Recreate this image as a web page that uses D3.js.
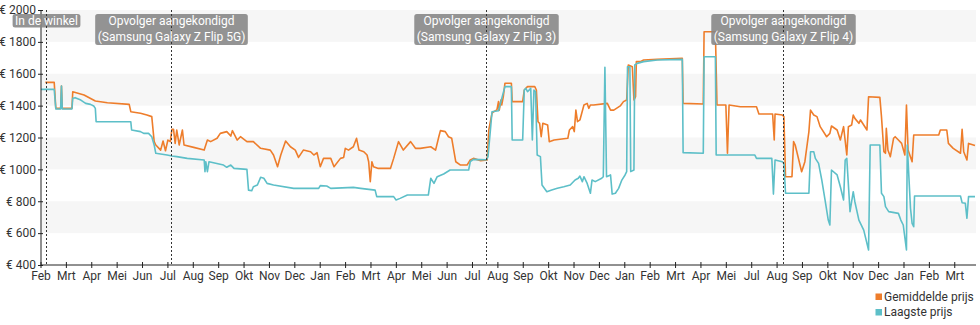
<!DOCTYPE html>
<html>
<head>
<meta charset="utf-8">
<script src="https://cdn.jsdelivr.net/npm/d3@7"></script>
<style>
  body { margin: 0; background: #fff; }
  svg text { font-family: Roboto, "Open Sans", sans-serif; }
</style>
</head>
<body>
<svg id="chart" width="980" height="325"></svg>
<script>
// Gemiddelde prijs (average price), € per date
const avgPrice = [
  ["2020-02-07",1546],["2020-02-18",1546],["2020-02-20",1383],["2020-02-26",1383],["2020-02-27",1523],["2020-02-28",1383],
  ["2020-03-11",1383],["2020-03-12",1487],["2020-03-26",1467],["2020-04-09",1429],["2020-04-24",1418],["2020-05-21",1408],
  ["2020-05-23",1362],["2020-06-04",1352],["2020-06-12",1341],["2020-06-18",1331],["2020-06-21",1174],["2020-06-23",1153],
  ["2020-06-29",1121],["2020-07-02",1178],["2020-07-05",1117],["2020-07-08",1184],["2020-07-11",1174],["2020-07-13",1251],
  ["2020-07-15",1251],["2020-07-17",1163],["2020-07-19",1247],["2020-07-22",1153],["2020-07-26",1247],["2020-07-28",1153],
  ["2020-08-09",1138],["2020-08-22",1121],["2020-08-26",1184],["2020-08-30",1174],["2020-09-07",1195],["2020-09-11",1226],
  ["2020-09-19",1237],["2020-09-24",1209],["2020-09-26",1243],["2020-10-02",1184],["2020-10-06",1205],["2020-10-14",1174],
  ["2020-10-22",1174],["2020-10-31",1132],["2020-11-12",1121],["2020-11-16",1090],["2020-11-21",1017],["2020-11-25",1090],
  ["2020-12-01",1178],["2020-12-07",1142],["2020-12-13",1121],["2020-12-17",1075],["2020-12-23",1121],["2021-01-01",1111],
  ["2021-01-05",1090],["2021-01-09",1105],["2021-01-13",1017],["2021-01-17",1069],["2021-01-26",1069],["2021-01-30",1017],
  ["2021-02-07",1069],["2021-02-11",1075],["2021-02-13",1132],["2021-02-17",1121],["2021-02-23",1142],["2021-02-27",1195],
  ["2021-03-02",1121],["2021-03-08",1111],["2021-03-12",1090],["2021-03-14",1048],["2021-03-16",923],["2021-03-18",1048],
  ["2021-03-20",1017],["2021-03-26",1006],["2021-04-10",1006],["2021-04-14",1069],["2021-04-20",1174],["2021-04-26",1121],
  ["2021-05-05",1174],["2021-05-11",1132],["2021-05-17",1132],["2021-05-30",1142],["2021-06-05",1121],["2021-06-09",1205],
  ["2021-06-11",1243],["2021-06-17",1237],["2021-06-21",1205],["2021-06-25",1195],["2021-06-30",1048],["2021-07-06",1027],
  ["2021-07-14",1027],["2021-07-18",1059],["2021-07-22",1069],["2021-07-31",1054],["2021-08-08",1059],["2021-08-10",1247],
  ["2021-08-14",1352],["2021-08-16",1362],["2021-08-20",1372],["2021-08-22",1425],["2021-08-23",1372],["2021-08-25",1435],
  ["2021-08-26",1404],["2021-08-28",1456],["2021-08-30",1540],["2021-09-07",1540],["2021-09-08",1425],["2021-09-21",1425],
  ["2021-09-23",1498],["2021-09-27",1519],["2021-10-06",1519],["2021-10-08",1498],["2021-10-10",1299],["2021-10-12",1289],
  ["2021-10-14",1205],["2021-10-16",1289],["2021-10-22",1278],["2021-10-24",1174],["2021-10-30",1184],["2021-11-16",1195],
  ["2021-11-18",1247],["2021-11-22",1268],["2021-11-24",1237],["2021-11-26",1372],["2021-11-28",1299],["2021-12-01",1310],
  ["2021-12-06",1404],["2021-12-10",1414],["2021-12-12",1383],["2021-12-14",1404],["2021-12-18",1404],["2022-01-04",1414],
  ["2022-01-08",1372],["2022-01-12",1372],["2022-01-20",1398],["2022-01-24",1425],["2022-01-28",1435],["2022-01-30",1655],
  ["2022-02-04",1644],["2022-02-06",1435],["2022-02-08",1456],["2022-02-09",1676],["2022-02-14",1676],["2022-02-18",1686],
  ["2022-03-07",1690],["2022-04-07",1697],["2022-04-08",1414],["2022-05-03",1410],["2022-05-04",1864],["2022-05-18",1864],
  ["2022-05-20",1404],["2022-05-31",1404],["2022-06-02",1101],["2022-06-04",1404],["2022-06-18",1393],["2022-07-08",1393],
  ["2022-07-11",1347],["2022-07-28",1347],["2022-07-30",1184],["2022-07-31",1347],["2022-08-09",1341],["2022-08-11",1331],
  ["2022-08-13",954],["2022-08-21",954],["2022-08-23",1174],["2022-08-25",1153],["2022-09-02",985],["2022-09-06",1048],
  ["2022-09-11",1237],["2022-09-13",1372],["2022-09-17",1341],["2022-09-21",1331],["2022-09-25",1268],["2022-10-03",1205],
  ["2022-10-07",1226],["2022-10-09",1272],["2022-10-16",1247],["2022-10-20",1184],["2022-10-24",1268],["2022-10-28",1090],
  ["2022-10-30",1268],["2022-11-03",1278],["2022-11-05",1341],["2022-11-07",1320],["2022-11-12",1289],["2022-11-14",1310],
  ["2022-11-22",1247],["2022-11-24",1456],["2022-12-08",1452],["2022-12-10",1331],["2022-12-13",1111],["2022-12-15",1101],
  ["2022-12-16",1257],["2022-12-18",1121],["2022-12-21",1080],["2022-12-25",1195],["2022-12-27",1205],["2022-12-31",1184],
  ["2023-01-04",1163],["2023-01-08",1090],["2023-01-10",1404],["2023-01-12",1121],["2023-01-17",1048],["2023-01-19",1216],
  ["2023-02-19",1216],["2023-02-21",1247],["2023-03-01",1247],["2023-03-03",1163],["2023-03-09",1132],["2023-03-18",1101],
  ["2023-03-20",1251],["2023-03-22",1111],["2023-03-26",1059],["2023-03-28",1163],["2023-04-05",1150]
];

// Laagste prijs (lowest price), € per date
const lowPrice = [
  ["2020-02-01",1502],["2020-02-18",1502],["2020-02-20",1379],["2020-02-26",1379],["2020-02-27",1523],["2020-02-28",1379],
  ["2020-03-11",1379],["2020-03-12",1446],["2020-03-15",1450],["2020-03-22",1435],["2020-03-28",1414],["2020-04-03",1408],
  ["2020-04-07",1398],["2020-04-09",1383],["2020-04-10",1299],["2020-05-23",1299],["2020-05-24",1247],["2020-06-04",1237],
  ["2020-06-08",1226],["2020-06-14",1226],["2020-06-18",1205],["2020-06-21",1153],["2020-06-23",1101],["2020-07-07",1090],
  ["2020-07-13",1084],["2020-07-19",1080],["2020-08-01",1069],["2020-08-22",1059],["2020-08-23",986],["2020-08-24",1048],
  ["2020-08-26",986],["2020-08-28",1048],["2020-09-15",1027],["2020-09-19",1013],["2020-09-24",1027],["2020-09-28",1006],
  ["2020-10-14",1000],["2020-10-16",870],["2020-10-20",866],["2020-10-22",891],["2020-10-27",902],["2020-10-31",950],
  ["2020-11-04",944],["2020-11-08",912],["2020-11-16",902],["2020-12-11",881],["2021-01-11",881],["2021-01-13",898],
  ["2021-01-21",896],["2021-01-26",881],["2021-02-23",887],["2021-03-04",881],["2021-03-22",870],["2021-03-24",829],
  ["2021-04-14",829],["2021-04-17",808],["2021-04-22",818],["2021-05-01",839],["2021-05-27",839],["2021-05-30",944],
  ["2021-06-03",912],["2021-06-07",954],["2021-06-15",971],["2021-06-23",996],["2021-07-16",996],["2021-07-18",1048],
  ["2021-07-22",1063],["2021-08-07",1060],["2021-08-09",1080],["2021-08-12",1247],["2021-08-14",1362],["2021-08-22",1368],
  ["2021-08-30",1519],["2021-09-07",1519],["2021-09-08",1184],["2021-09-21",1184],["2021-09-23",1498],["2021-09-25",1508],
  ["2021-09-27",1487],["2021-10-01",1508],["2021-10-03",1184],["2021-10-05",1498],["2021-10-07",1487],["2021-10-09",1090],
  ["2021-10-13",1080],["2021-10-15",902],["2021-10-21",860],["2021-10-27",871],["2021-11-03",881],["2021-11-11",891],
  ["2021-11-19",902],["2021-11-25",933],["2021-11-29",944],["2021-12-01",958],["2021-12-04",923],["2021-12-06",954],
  ["2021-12-10",912],["2021-12-14",850],["2021-12-16",933],["2021-12-20",923],["2021-12-28",944],["2021-12-30",954],
  ["2022-01-01",1640],["2022-01-03",954],["2022-01-08",965],["2022-01-10",845],["2022-01-14",850],["2022-01-18",881],
  ["2022-01-22",933],["2022-01-26",965],["2022-01-28",986],["2022-01-29",1644],["2022-02-01",1644],["2022-02-02",986],
  ["2022-02-06",996],["2022-02-07",1655],["2022-02-10",1665],["2022-02-18",1676],["2022-03-07",1686],["2022-04-07",1690],
  ["2022-04-08",1105],["2022-05-03",1101],["2022-05-04",1707],["2022-05-18",1707],["2022-05-19",1090],["2022-07-06",1090],
  ["2022-07-08",1069],["2022-07-27",1069],["2022-07-29",845],["2022-07-31",1059],["2022-08-09",1048],["2022-08-11",1038],
  ["2022-08-13",850],["2022-09-11",850],["2022-09-13",1111],["2022-09-17",1111],["2022-09-19",1069],["2022-09-23",1038],
  ["2022-09-27",933],["2022-10-01",808],["2022-10-05",682],["2022-10-07",651],["2022-10-09",996],["2022-10-16",965],
  ["2022-10-20",891],["2022-10-24",808],["2022-10-26",1059],["2022-10-28",1069],["2022-11-01",735],["2022-11-05",860],
  ["2022-11-07",797],["2022-11-12",682],["2022-11-18",619],["2022-11-24",494],["2022-11-26",1153],["2022-12-08",1153],
  ["2022-12-10",850],["2022-12-13",829],["2022-12-15",766],["2022-12-19",735],["2022-12-31",724],["2023-01-03",682],
  ["2023-01-06",651],["2023-01-10",494],["2023-01-11",1153],["2023-01-15",756],["2023-01-17",661],["2023-01-19",640],
  ["2023-01-20",833],["2023-03-18",833],["2023-03-20",791],["2023-03-24",787],["2023-03-26",693],["2023-03-28",829],
  ["2023-04-05",829]
];

const seriesNames = ["Gemiddelde prijs", "Laagste prijs"];
const seriesColors = ["#ee7d2b", "#5dbfc8"];

// Month labels for the (evenly spaced) time ticks
const tickLabels = ["Feb","Mrt","Apr","Mei","Jun","Jul","Aug","Sep","Okt","Nov","Dec",
  "Jan","Feb","Mrt","Apr","Mei","Jun","Jul","Aug","Sep","Okt","Nov","Dec",
  "Jan","Feb","Mrt","Apr","Mei","Jul","Aug","Sep","Okt","Nov","Dec",
  "Jan","Feb","Mrt"];
const yTicks = [400, 600, 800, 1000, 1200, 1400, 1600, 1800, 2000];

// Product milestones
const eventDates = ["2020-02-08", "2020-07-12", "2021-08-07", "2022-08-10"];
const eventLabels = [
  ["In de winkel"],
  ["Opvolger aangekondigd", "(Samsung Galaxy Z Flip 5G)"],
  ["Opvolger aangekondigd", "(Samsung Galaxy Z Flip 3)"],
  ["Opvolger aangekondigd", "(Samsung Galaxy Z Flip 4)"]
];

const parse = d3.timeParse("%Y-%m-%d");
const svg = d3.select("#chart");
const plotL = 41, plotR = 976, plotT = 10, plotB = 265;

const start = parse("2020-02-01"), end = parse("2023-04-05");
const x = d3.scaleTime().domain([start, end]).range([40.5, 975]);
const y = d3.scaleLinear().domain([400, 2000]).range([plotB, plotT]);

// alternating background bands
const bands = yTicks.filter((v, i) => i % 2 === 1 && v < 2000);
svg.append("g").selectAll("rect").data(bands).join("rect")
  .attr("x", plotL).attr("width", plotR - plotL)
  .attr("y", d => y(d + 200)).attr("height", d => y(d) - y(d + 200))
  .attr("fill", "#f6f6f6");

// price lines
svg.append("clipPath").attr("id", "plot")
  .append("rect").attr("x", plotL).attr("y", plotT - 2).attr("width", plotR - plotL).attr("height", plotB - plotT + 2);

const line = d3.line().x(d => x(parse(d[0]))).y(d => y(d[1]));
const lines = svg.append("g").attr("clip-path", "url(#plot)");
[avgPrice, lowPrice].forEach((s, i) => {
  lines.append("path").datum(s)
    .attr("d", line)
    .attr("fill", "none")
    .attr("stroke", seriesColors[i])
    .attr("stroke-width", 1.6)
    .attr("stroke-linejoin", "round");
});

// x axis with evenly spaced ticks
const tickStepMs = 31.48 * 864e5;
const tickDates = tickLabels.map((_, k) => new Date(start.getTime() + k * tickStepMs));
const xAxis = svg.append("g").attr("transform", `translate(0,${plotB})`)
  .call(d3.axisBottom(x).tickValues(tickDates).tickFormat((d, i) => tickLabels[i])
    .tickSizeOuter(0).tickSize(3).tickPadding(3));
xAxis.select(".domain").attr("d", `M${plotL},0H${plotR}`).attr("stroke", "#222");
xAxis.selectAll(".tick line").attr("y1", -3).attr("y2", 3).attr("stroke", "#222");
xAxis.selectAll(".tick text").attr("fill", "#333").style("font-size", "12px");

// y axis
const yAxis = svg.append("g").attr("transform", `translate(${plotL},0)`)
  .call(d3.axisLeft(y).tickValues(yTicks).tickFormat(v => "€ " + v)
    .tickSizeOuter(0).tickSize(3).tickPadding(2));
yAxis.select(".domain").attr("d", `M0,${plotT}V${plotB}`).attr("stroke", "#222");
yAxis.selectAll(".tick line").attr("x1", -3).attr("x2", 2).attr("stroke", "#222");
yAxis.selectAll(".tick text").attr("fill", "#333").style("font-size", "12px");

// milestone markers
const ev = svg.append("g");
eventDates.forEach((ds, i) => {
  const cx = Math.round(x(parse(ds))) + 0.5;
  const g = ev.append("g");
  const box = g.append("rect");
  const texts = eventLabels[i].map((t, j) =>
    g.append("text").attr("x", cx).attr("y", 25 + j * 15.5)
      .attr("text-anchor", "middle").attr("fill", "#fff")
      .style("font-size", "12px").text(t));
  const w = d3.max(texts, t => t.node().getComputedTextLength());
  box.attr("x", cx - w / 2 - 2.5).attr("width", w + 5)
    .attr("y", 14).attr("height", eventLabels[i].length === 1 ? 13.5 : 31)
    .attr("rx", 2.5).attr("fill", "#858585").attr("fill-opacity", 0.88);
  g.insert("line", "text")
    .attr("x1", cx).attr("x2", cx).attr("y1", plotT).attr("y2", plotB)
    .attr("stroke", "#333").attr("stroke-width", 1).attr("stroke-dasharray", "2,2");
});

// legend
const legend = svg.append("g");
seriesNames.forEach((name, i) => {
  legend.append("rect").attr("x", 875.5).attr("y", 293.5 + i * 15.5)
    .attr("width", 6.5).attr("height", 6.5).attr("fill", seriesColors[i]);
  legend.append("text").attr("x", 884).attr("y", 300.5 + i * 15.5)
    .attr("fill", "#333").style("font-size", "12px").text(name);
});
</script>
</body>
</html>
